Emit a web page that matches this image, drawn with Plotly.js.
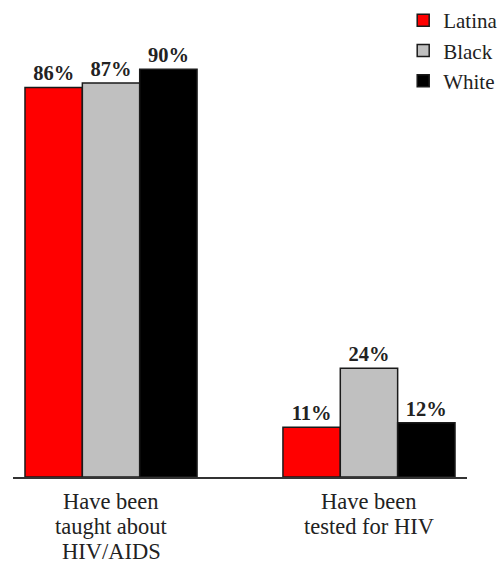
<!DOCTYPE html>
<html>
<head>
<meta charset="utf-8">
<script src="https://cdn.plot.ly/plotly-3.0.1.min.js"></script>
<style>
  html, body { margin: 0; padding: 0; background: #fff; }
  #chart { width: 504px; height: 567px; }
</style>
</head>
<body>
<div id="chart"></div>
<script>
// Survey outcomes by group, percent of respondents
const categories = ['Have been<br>taught about<br>HIV/AIDS', 'Have been<br>tested for HIV'];
const seriesNames = ['Latina', 'Black', 'White'];
const latina = [86, 11];
const black = [87, 24];
const white = [90, 12];

const values = [latina, black, white];
const fills = ['#ff0000', '#c0c0c0', '#000000'];
const serif = '"Liberation Serif", "Times New Roman", serif';

const traces = seriesNames.map((name, i) => ({
  type: 'bar',
  name: name,
  x: categories,
  y: values[i],
  marker: { color: fills[i], line: { color: '#1a1a1a', width: 1.5 } },
  texttemplate: '<b>%{y}%</b>',
  textposition: 'outside',
  textfont: { family: serif, size: 20.5, color: '#222' },
  cliponaxis: false,
  hoverinfo: 'skip'
}));

// Category labels under the axis, one annotation per line so the
// leading stays tight
const lineStep = 25;
const firstLineOffset = 24;
const labelNotes = [];
categories.forEach(cat => {
  cat.split('<br>').forEach((line, k) => {
    labelNotes.push({
      xref: 'x', yref: 'paper',
      x: cat, y: 0,
      xanchor: 'center', yanchor: 'middle',
      yshift: -(firstLineOffset + k * lineStep),
      text: line,
      showarrow: false,
      font: { family: serif, size: 22.5, color: '#222' }
    });
  });
});

const layout = {
  width: 504,
  height: 567,
  margin: { l: 13, r: 37, t: 50, b: 90, autoexpand: false },
  paper_bgcolor: '#fff',
  plot_bgcolor: '#fff',
  barmode: 'group',
  bargap: 0.333,
  bargroupgap: 0,
  showlegend: true,
  legend: {
    xref: 'container', yref: 'container',
    x: 0.8, xanchor: 'left', y: 1.0, yanchor: 'top',
    font: { family: serif, size: 21, color: '#222' },
    bgcolor: 'rgba(0,0,0,0)',
    itemclick: false, itemdoubleclick: false
  },
  annotations: labelNotes,
  xaxis: {
    type: 'category',
    range: [-0.38, 1.38],
    showline: true, linecolor: '#333', linewidth: 2,
    ticks: '', showticklabels: false,
    showgrid: false, zeroline: false
  },
  yaxis: {
    range: [0, 94.26],
    visible: false, showgrid: false, zeroline: false
  }
};

Plotly.newPlot('chart', traces, layout, { staticPlot: true, displayModeBar: false });
</script>
</body>
</html>
